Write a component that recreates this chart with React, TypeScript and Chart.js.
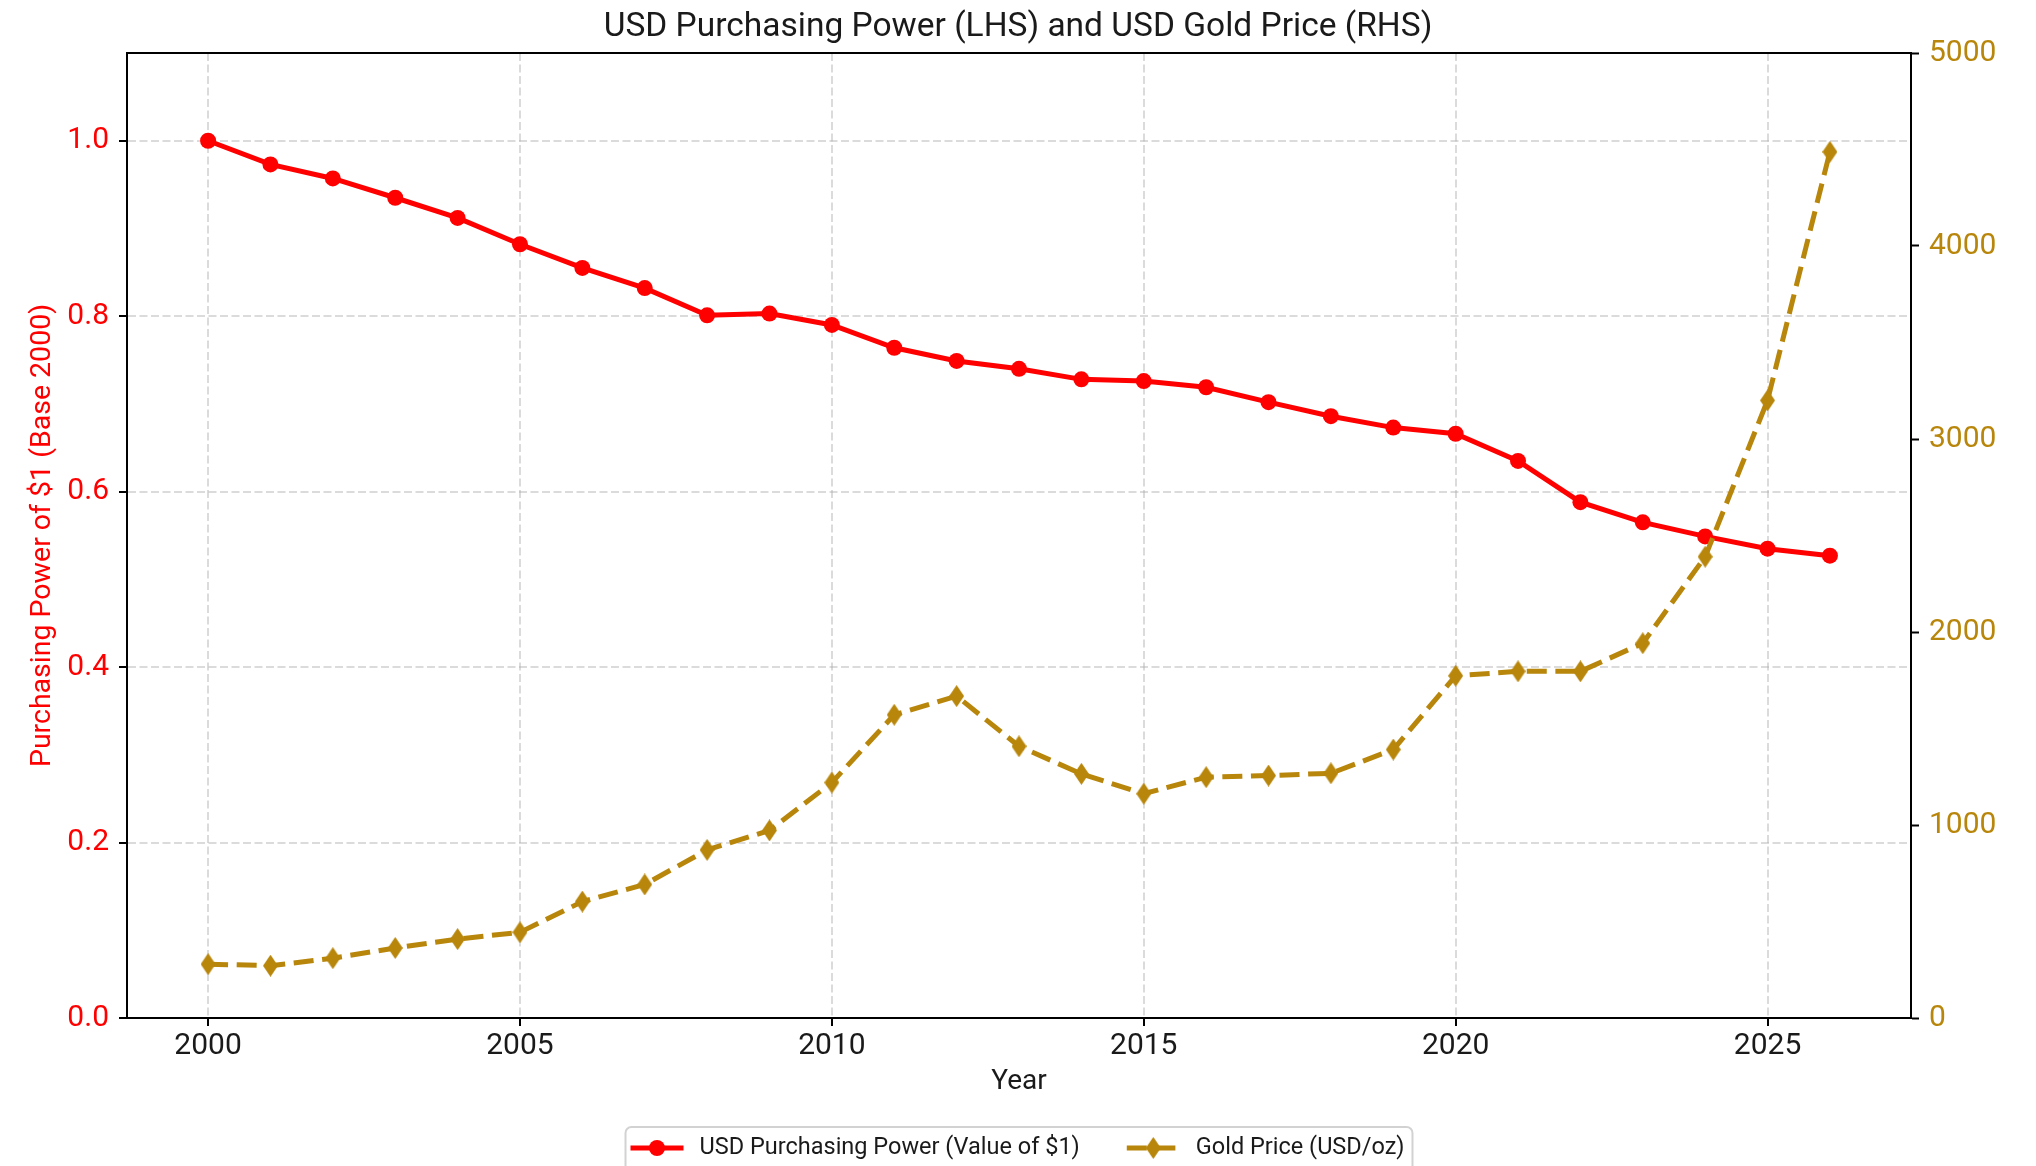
import React, { useEffect, useRef } from "react";
import { Chart, registerables } from "chart.js";

Chart.register(...registerables);

// ---------- Text ----------
const CHART_TITLE = "USD Purchasing Power (LHS) and USD Gold Price (RHS)";
const X_AXIS_TITLE = "Year";
const LEFT_AXIS_TITLE = "Purchasing Power of $1 (Base 2000)";
const PP_LABEL = "USD Purchasing Power (Value of $1)";
const GOLD_LABEL = "Gold Price (USD/oz)";

// ---------- Data ----------
const years = [
  2000, 2001, 2002, 2003, 2004, 2005, 2006, 2007, 2008, 2009, 2010, 2011, 2012, 2013,
  2014, 2015, 2016, 2017, 2018, 2019, 2020, 2021, 2022, 2023, 2024, 2025, 2026,
];
const purchasingPower = [
  1.0, 0.973, 0.957, 0.935, 0.912, 0.882, 0.855, 0.832, 0.801, 0.803, 0.79, 0.764, 0.749, 0.74,
  0.728, 0.726, 0.719, 0.702, 0.686, 0.673, 0.666, 0.635, 0.588, 0.565, 0.549, 0.535, 0.527,
];
const goldPrice = [
  279, 271, 310, 363, 409, 444, 603, 692, 871, 972, 1220, 1571, 1668, 1408,
  1265, 1162, 1248, 1256, 1268, 1391, 1773, 1796, 1796, 1942, 2390, 3200, 4488,
];

// ---------- Ticks / ranges ----------
const xTicks = [2000, 2005, 2010, 2015, 2020, 2025];
const leftTicks = [0, 0.2, 0.4, 0.6, 0.8, 1.0];
const rightTicks = [0, 1000, 2000, 3000, 4000, 5000];
const xRange = [1998.7, 2027.3];
const leftRange = [0, 1.1];
const rightRange = [0, 5000];

// ---------- Style ----------
const FONT = "Roboto, 'DejaVu Sans', sans-serif";
const RED = "#ff0000";
const GOLD = "#b8860b";
const GRID = "rgba(176,176,176,0.45)";
const TEXT = "#1a1a1a";
const GOLD_DASH = [20, 8.6];
const W = 2036;
const H = 1166;

function makeDiamond(w: number, h: number, color: string) {
  const c = document.createElement("canvas");
  c.width = w;
  c.height = h;
  const g = c.getContext("2d")!;
  g.fillStyle = color;
  g.beginPath();
  g.moveTo(w / 2, 0);
  g.lineTo(w, h / 2);
  g.lineTo(w / 2, h);
  g.lineTo(0, h / 2);
  g.closePath();
  g.fill();
  return c;
}

export default function App() {
  const ref = useRef<HTMLCanvasElement | null>(null);

  useEffect(() => {
    if (!ref.current) return;
    const diamond = makeDiamond(15, 22, GOLD);

    const framePlugin = {
      id: "frameAndLegend",
      afterDraw(chart: any) {
        const { ctx, chartArea: area } = chart;
        ctx.save();
        // top spine
        ctx.strokeStyle = "#000";
        ctx.lineWidth = 2;
        ctx.setLineDash([]);
        ctx.beginPath();
        ctx.moveTo(area.left - 1, area.top);
        ctx.lineTo(area.right + 1, area.top);
        ctx.stroke();

        // legend
        const size = 23.5;
        ctx.font = `${size}px ${FONT}`;
        const w1 = ctx.measureText(PP_LABEL).width;
        const w2 = ctx.measureText(GOLD_LABEL).width;
        const handle = 53, padL = 5, gapText = 16, colGap = 47, padR = 8;
        const total = padL + handle + gapText + w1 + colGap + handle + gapText + w2 + padR;
        const cx = (area.left + area.right) / 2;
        const left = cx - total / 2;
        const top = 1127;
        const cy = 1148;
        ctx.beginPath();
        (ctx as any).roundRect(left, top, total, 70, 6);
        ctx.fillStyle = "rgba(255,255,255,0.8)";
        ctx.fill();
        ctx.strokeStyle = "#d2d2d2";
        ctx.lineWidth = 2;
        ctx.stroke();

        let x = left + padL;
        ctx.strokeStyle = RED;
        ctx.lineWidth = 5;
        ctx.beginPath();
        ctx.moveTo(x, cy);
        ctx.lineTo(x + handle, cy);
        ctx.stroke();
        ctx.fillStyle = RED;
        ctx.beginPath();
        ctx.arc(x + handle / 2, cy, 8, 0, Math.PI * 2);
        ctx.fill();
        x += handle + gapText;
        ctx.fillStyle = TEXT;
        ctx.textBaseline = "middle";
        ctx.textAlign = "left";
        ctx.fillText(PP_LABEL, x, cy);
        x += w1 + colGap;

        ctx.strokeStyle = GOLD;
        ctx.lineWidth = 5;
        ctx.setLineDash(GOLD_DASH);
        ctx.beginPath();
        ctx.moveTo(x, cy);
        ctx.lineTo(x + handle, cy);
        ctx.stroke();
        ctx.setLineDash([]);
        ctx.drawImage(diamond, x + handle / 2 - diamond.width / 2, cy - diamond.height / 2);
        x += handle + gapText;
        ctx.fillStyle = TEXT;
        ctx.fillText(GOLD_LABEL, x, cy);
        ctx.restore();
      },
    };

    const tickFont = { family: FONT, size: 30 };

    const chart = new Chart(ref.current, {
      type: "line",
      data: {
        datasets: [
          {
            label: GOLD_LABEL,
            data: years.map((y, i) => ({ x: y, y: goldPrice[i] })),
            yAxisID: "y1",
            borderColor: GOLD,
            backgroundColor: GOLD,
            borderWidth: 5,
            borderDash: GOLD_DASH,
            pointStyle: diamond as any,
            pointRadius: 8,
            pointBorderWidth: 0,
            tension: 0,
            fill: false,
            order: 0,
          },
          {
            label: PP_LABEL,
            data: years.map((y, i) => ({ x: y, y: purchasingPower[i] })),
            yAxisID: "y",
            borderColor: RED,
            backgroundColor: RED,
            borderWidth: 5,
            pointStyle: "circle",
            pointRadius: 8,
            pointBorderWidth: 0,
            tension: 0,
            fill: false,
            order: 1,
          },
        ],
      },
      options: {
        animation: false,
        responsive: false,
        devicePixelRatio: 1,
        layout: { padding: 0 },
        plugins: {
          legend: { display: false },
          tooltip: { enabled: false },
          title: {
            display: true,
            text: CHART_TITLE,
            color: TEXT,
            font: { family: FONT, size: 33.5, weight: "normal" },
            padding: { top: 8, bottom: 4.8 },
          },
        },
        scales: {
          x: {
            type: "linear",
            position: "bottom",
            min: xRange[0],
            max: xRange[1],
            afterBuildTicks: (s: any) => {
              s.ticks = xTicks.map((value) => ({ value }));
            },
            afterFit: (s: any) => {
              s.height = H - 1018;
            },
            ticks: {
              color: TEXT,
              font: tickFont,
              padding: 2,
              maxRotation: 0,
              autoSkip: false,
              callback: (v: any) => String(v),
            },
            grid: {
              color: GRID,
              lineWidth: 2,
              tickColor: "#000",
              tickLength: 8,
              tickWidth: 2,
            },
            border: { display: true, color: "#000", width: 2, dash: [8, 3.5] },
            title: {
              display: true,
              text: X_AXIS_TITLE,
              color: TEXT,
              font: { family: FONT, size: 28 },
              padding: { top: 0, bottom: 67 },
            },
          },
          y: {
            type: "linear",
            position: "left",
            min: leftRange[0],
            max: leftRange[1],
            afterBuildTicks: (s: any) => {
              s.ticks = leftTicks.map((value) => ({ value }));
            },
            afterFit: (s: any) => {
              s.width = 127;
            },
            ticks: {
              color: RED,
              font: tickFont,
              padding: 10,
              callback: (v: any) => Number(v).toFixed(1),
            },
            grid: {
              color: GRID,
              lineWidth: 2,
              tickColor: "#000",
              tickLength: 8,
              tickWidth: 2,
            },
            border: { display: true, color: "#000", width: 2, dash: [8, 3.5] },
            title: {
              display: true,
              text: LEFT_AXIS_TITLE,
              color: RED,
              font: { family: FONT, size: 28.5 },
              padding: { top: 26, bottom: 0 },
            },
          },
          y1: {
            type: "linear",
            position: "right",
            min: rightRange[0],
            max: rightRange[1],
            afterBuildTicks: (s: any) => {
              s.ticks = rightTicks.map((value) => ({ value }));
            },
            afterFit: (s: any) => {
              s.width = W - 1911;
            },
            ticks: {
              color: GOLD,
              font: tickFont,
              padding: 10,
              callback: (v: any) => String(v),
            },
            grid: {
              drawOnChartArea: false,
              tickColor: "#000",
              tickLength: 8,
              tickWidth: 2,
            },
            border: { display: true, color: "#000", width: 2 },
          },
        },
      } as any,
      plugins: [framePlugin],
    });

    return () => chart.destroy();
  }, []);

  return (
    <div style={{ position: "absolute", left: 0, top: 0, width: W, height: H, background: "#fff" }}>
      <canvas ref={ref} width={W} height={H} style={{ display: "block", width: W, height: H }} />
    </div>
  );
}
